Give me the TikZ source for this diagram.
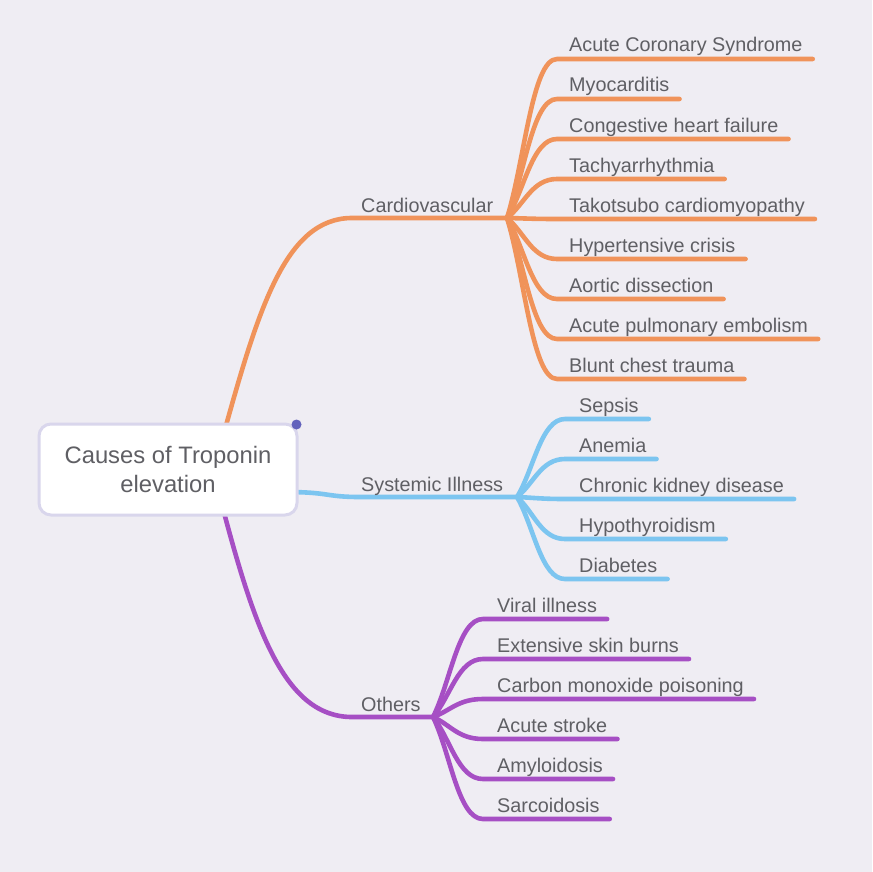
\documentclass[tikz,border=0pt]{standalone}
\usepackage{fontspec}
\setmainfont{Liberation Sans}
\usetikzlibrary{calc}
\definecolor{bgc}{HTML}{EFEDF3}
\definecolor{orc}{HTML}{F0935A}
\definecolor{blc}{HTML}{7CC5F0}
\definecolor{puc}{HTML}{A64FC4}
\definecolor{txc}{HTML}{5F5F64}
\definecolor{boxc}{HTML}{D9D6EC}
\definecolor{dotc}{HTML}{6262BC}
\begin{document}
\begin{tikzpicture}[x=1pt,y=-1pt,
  leaf/.style={anchor=base west, inner sep=0pt, text=txc, font=\fontsize{19.8}{23}\selectfont},
  mainlbl/.style={anchor=base west, inner sep=0pt, text=txc, font=\fontsize{19.8}{23}\selectfont},
  wire/.style={line width=4.6pt, line cap=round, line join=round},
  rootbox/.style={draw=boxc, line width=3pt, fill=white, rounded corners=12pt,
    minimum width=258pt, minimum height=91pt, align=center, text=txc,
    font=\fontsize{23.8}{29}\selectfont}]
\useasboundingbox (0,0) rectangle (872,872);
\fill[bgc] (0,0) rectangle (872,872);

% main branch coordinates
\coordinate (cvA) at (222,440);
\coordinate (cvM) at (352,218);
\coordinate (cvO) at (507,218);
\coordinate (syA) at (285,492);
\coordinate (syM) at (360,497);
\coordinate (syO) at (517,497);
\coordinate (otA) at (222,505);
\coordinate (otM) at (352,717);
\coordinate (otO) at (433,717);

\draw[wire, orc] (cvA) .. controls (258,310) and (285,218) .. (cvM) -- (cvO);
\draw[wire, blc] (syA) .. controls (330,492) and (325,497) .. (syM) -- (syO);
\draw[wire, puc] (otA) .. controls (255,630) and (285,717) .. (otM) -- (otO);

\node[mainlbl] (cv) at (361,212) {Cardiovascular};
\node[mainlbl] (sy) at (361,491) {Systemic Illness};
\node[mainlbl] (ot) at (361,711) {Others};

% Cardiovascular children
\foreach \i/\t in {0/Acute Coronary Syndrome,1/Myocarditis,2/Congestive heart failure,3/Tachyarrhythmia,4/Takotsubo cardiomyopathy,5/Hypertensive crisis,6/Aortic dissection,7/Acute pulmonary embolism,8/Blunt chest trauma}{
  \pgfmathsetmacro\cy{59+40*\i}
  \node[leaf] (cv\i) at (569,\cy-7) {\t};
  \coordinate (cvs\i) at (557,\cy);
  \draw[wire, orc] (cvO) .. controls ($(cvO)!0.35!(cvs\i)$) and (532,\cy) .. (cvs\i) -- ([xshift=10pt,yshift=-7pt]cv\i.base east);
}

% Systemic children
\foreach \i/\t in {0/Sepsis,1/Anemia,2/Chronic kidney disease,3/Hypothyroidism,4/Diabetes}{
  \pgfmathsetmacro\cy{419+40*\i}
  \node[leaf] (sy\i) at (579,\cy-7) {\t};
  \coordinate (sys\i) at (565,\cy);
  \draw[wire, blc] (syO) .. controls ($(syO)!0.35!(sys\i)$) and (541,\cy) .. (sys\i) -- ([xshift=10pt,yshift=-7pt]sy\i.base east);
}

% Others children
\foreach \i/\t in {0/Viral illness,1/Extensive skin burns,2/Carbon monoxide poisoning,3/Acute stroke,4/Amyloidosis,5/Sarcoidosis}{
  \pgfmathsetmacro\cy{619+40*\i}
  \node[leaf] (ot\i) at (497,\cy-7) {\t};
  \coordinate (ots\i) at (483,\cy);
  \draw[wire, puc] (otO) .. controls ($(otO)!0.35!(ots\i)$) and (458,\cy) .. (ots\i) -- ([xshift=10pt,yshift=-7pt]ot\i.base east);
}

% root
\node[rootbox] (root) at (168,469.5) {Causes of Troponin\\elevation};
\fill[dotc] ([xshift=-2pt,yshift=-2pt]root.north east) circle (5pt);
\end{tikzpicture}
\end{document}
